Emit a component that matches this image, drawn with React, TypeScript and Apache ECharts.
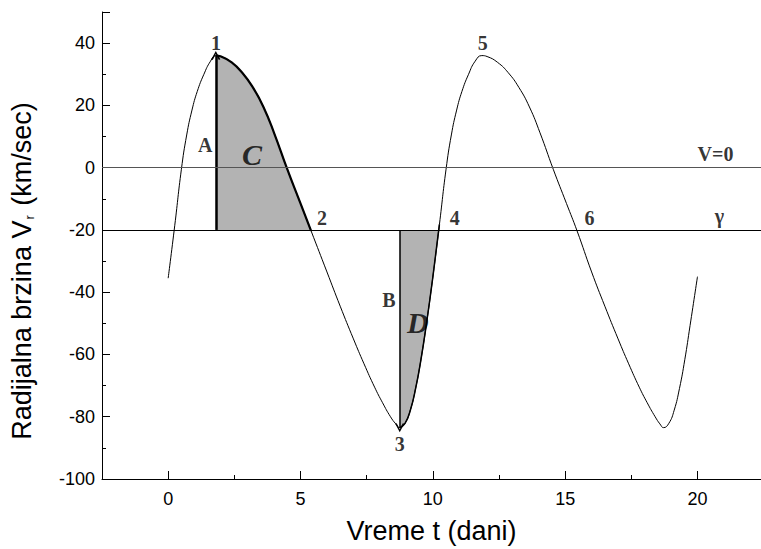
import React, { useEffect, useRef } from "react";
import * as echarts from "echarts";

// Radial velocity curve (t in days, V in km/s)
const tValues = [
  0.0, 0.25, 0.5, 0.7, 0.9, 1.1, 1.35, 1.6, 1.8, 2.0, 2.4, 2.8, 3.2, 3.6, 4.0,
  4.5, 5.0, 5.4, 6.0, 6.5, 7.0, 7.4, 7.8, 8.1, 8.4, 8.6, 8.75, 8.95, 9.15,
  9.35, 9.55, 9.75, 10.0, 10.25, 10.5, 10.7, 10.9, 11.1, 11.35, 11.6, 11.85,
  12.05, 12.45, 12.85, 13.25, 13.65, 14.05, 14.55, 15.05, 15.45, 16.0, 16.5,
  17.0, 17.4, 17.8, 18.1, 18.4, 18.58, 18.72, 18.92, 19.12, 19.32, 19.52,
  19.72, 20.0,
];
const vValues = [
  -35.5, -18.5, -0.5, 10.5, 18.5, 24.5, 30, 34.2, 36, 35.7, 33.8, 30.5, 25.8,
  19.5, 11.2, -0.5, -11.5, -20.3, -33.5, -44.5, -55, -63, -70.5, -75.5, -80,
  -82.3, -83.5, -82.1, -77.9, -70.9, -61.7, -50.7, -35.2, -18.2, -0.5, 10.5,
  18.5, 24.5, 30, 34.2, 36, 35.7, 33.8, 30.5, 25.8, 19.5, 11.2, -0.5, -11.5,
  -20.3, -33.5, -44.5, -55, -63, -70.5, -75.5, -80, -82.3, -83.5, -82.1,
  -77.9, -70.9, -61.7, -50.7, -35,
];

const gammaV = -20;
const zeroV = 0;
const regionC = [1.8, 5.4];
const regionD = [8.75, 10.25];
const arrowA = [1.8, 36];
const arrowB = [8.75, -83.5];

const xMajorTicks = [0, 5, 10, 15, 20];
const xMinorTicks = [2.5, 7.5, 12.5, 17.5];

const pointLabels = [
  { name: "1", t: 1.81, v: 40.1 },
  { name: "2", t: 5.81, v: -16.3 },
  { name: "3", t: 8.75, v: -88.8 },
  { name: "4", t: 10.83, v: -16.3 },
  { name: "5", t: 11.89, v: 40.1 },
  { name: "6", t: 15.92, v: -16.3 },
  { name: "V=0", t: 20.68, v: 4.3 },
  { name: "γ", t: 20.83, v: -15.6 },
  { name: "A", t: 1.4, v: 7.2 },
  { name: "B", t: 8.34, v: -42.5 },
];
const scriptLabels = [
  { name: "C", t: 3.17, v: 4.3 },
  { name: "D", t: 9.43, v: -49.8 },
];

const chevron = "path://M0,9 L5,0 L10,9 L8.4,9.8 L5,3.2 L1.6,9.8 Z";

export default function App() {
  const ref = useRef<HTMLDivElement>(null);
  useEffect(() => {
    if (!ref.current) return;
    const chart = echarts.init(ref.current, undefined, { renderer: "svg" });
    const curve = tValues.map((t, i) => [t, vValues[i]]);
    const cData = curve.filter((p) => p[0] >= regionC[0] && p[0] <= regionC[1]);
    const dData = curve.filter((p) => p[0] >= regionD[0] && p[0] <= regionD[1]);
    const sans = "Liberation Sans";
    const serif = "Liberation Serif";
    const smooth = 0.5;

    chart.setOption({
      animation: false,
      backgroundColor: "#fff",
      grid: { left: 102, right: 0, top: 12, bottom: 63, containLabel: false },
      xAxis: [
        {
          type: "value",
          min: -2.5,
          max: 22.4,
          position: "bottom",
          name: "Vreme t (dani)",
          nameLocation: "middle",
          nameGap: 38,
          nameTextStyle: { fontFamily: sans, fontSize: 27, color: "#000" },
          axisLine: { onZero: false, lineStyle: { color: "#000", width: 1 } },
          axisTick: { inside: true, length: 8, customValues: xMajorTicks, lineStyle: { color: "#000" } },
          axisLabel: { customValues: xMajorTicks, fontFamily: sans, fontSize: 18, color: "#000", margin: 11 },
          splitLine: { show: false },
        },
        {
          type: "value",
          min: -2.5,
          max: 22.4,
          position: "bottom",
          axisLine: { show: false, onZero: false },
          axisTick: { inside: true, length: 4, customValues: xMinorTicks, lineStyle: { color: "#000" } },
          axisLabel: { show: false },
          splitLine: { show: false },
        },
      ],
      yAxis: {
        type: "value",
        min: -100,
        max: 50,
        interval: 20,
        axisLine: { show: true, onZero: false, lineStyle: { color: "#000", width: 1 } },
        axisTick: { show: true, inside: true, length: 8, lineStyle: { color: "#000" } },
        minorTick: { show: true, splitNumber: 2, length: 4, lineStyle: { color: "#000" } },
        axisLabel: { fontFamily: sans, fontSize: 18, color: "#000", margin: 7, showMaxLabel: false },
        splitLine: { show: false },
      },
      graphic: [
        {
          type: "text",
          x: 22,
          y: 271,
          rotation: Math.PI / 2,
          style: {
            text: "Radijalna brzina V{sub|r} (km/sec)",
            font: `27px "${sans}"`,
            fill: "#000",
            align: "center",
            verticalAlign: "middle",
            rich: {
              sub: { fontSize: 13, fontFamily: sans, padding: [14, 2, 0, 1], fill: "#000" },
            },
          },
        },
      ],
      series: [
        {
          type: "line",
          name: "C",
          data: cData,
          smooth,
          showSymbol: false,
          symbol: "none",
          lineStyle: { color: "#000", width: 2.2 },
          areaStyle: { color: "#b3b3b3", origin: gammaV, opacity: 1 },
          z: 2,
          markLine: {
            silent: true,
            symbol: ["none", chevron],
            symbolSize: [9, 9],
            label: { show: false },
            lineStyle: { color: "#000", width: 2.5, type: "solid" },
            data: [[{ coord: [arrowA[0], gammaV] }, { coord: [arrowA[0], arrowA[1]] }]],
          },
        },
        {
          type: "line",
          name: "D",
          data: dData,
          smooth,
          showSymbol: false,
          symbol: "none",
          lineStyle: { color: "#000", width: 1.5 },
          areaStyle: { color: "#b3b3b3", origin: gammaV, opacity: 1 },
          z: 2,
          markLine: {
            silent: true,
            symbol: ["none", chevron],
            symbolSize: [9, 9],
            label: { show: false },
            lineStyle: { color: "#000", width: 1.5, type: "solid" },
            data: [[{ coord: [arrowB[0], gammaV] }, { coord: [arrowB[0], arrowB[1]] }]],
          },
        },
        {
          type: "line",
          name: "Vr",
          data: curve,
          smooth,
          showSymbol: false,
          symbol: "none",
          lineStyle: { color: "#000", width: 1 },
          z: 3,
          markLine: {
            silent: true,
            symbol: "none",
            label: { show: false },
            data: [
              { yAxis: zeroV, lineStyle: { color: "#555", width: 1.2, type: "solid" } },
              { yAxis: gammaV, lineStyle: { color: "#000", width: 1, type: "solid" } },
            ],
          },
        },
        {
          type: "scatter",
          symbolSize: 0,
          z: 5,
          data: pointLabels.map((p) => ({ name: p.name, value: [p.t, p.v] })),
          label: {
            show: true,
            position: [0, 0],
            align: "center",
            verticalAlign: "middle",
            formatter: "{b}",
            fontFamily: serif,
            fontWeight: "bold",
            fontSize: 20,
            color: "#000",
          },
        },
        {
          type: "scatter",
          symbolSize: 0,
          z: 5,
          data: scriptLabels.map((p) => ({ name: p.name, value: [p.t, p.v] })),
          label: {
            show: true,
            position: [0, 0],
            align: "center",
            verticalAlign: "middle",
            formatter: "{b}",
            fontFamily: serif,
            fontWeight: "bold",
            fontStyle: "italic",
            fontSize: 30,
            color: "#000",
          },
        },
      ],
    });
    return () => chart.dispose();
  }, []);
  return (
    <div
      ref={ref}
      style={{ position: "fixed", left: 0, top: 0, width: 761, height: 549, background: "#fff" }}
    />
  );
}
